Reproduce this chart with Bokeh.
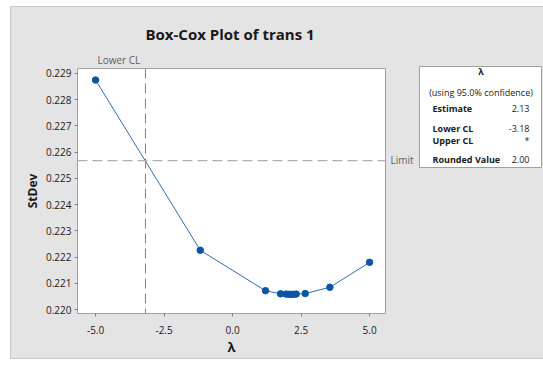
from bokeh.plotting import figure
from bokeh.layouts import row
from bokeh.models import Span, FixedTicker, NumeralTickFormatter, Range1d, Title
from bokeh.core.properties import value
from bokeh.embed import file_html
from bokeh.resources import INLINE

# ---- data ----
lam = [-5.0, -1.18, 1.20, 1.75, 1.95, 2.05, 2.13, 2.22, 2.32, 2.65, 3.55, 5.0]
stdev = [0.22875, 0.22226, 0.22072, 0.22060, 0.22059, 0.22058, 0.22058, 0.22058,
         0.22059, 0.22061, 0.22085, 0.22180]
lower_cl = -3.18
limit = 0.22568
x_ticks = [-5.0, -2.5, 0.0, 2.5, 5.0]
y_ticks = [0.220, 0.221, 0.222, 0.223, 0.224, 0.225, 0.226, 0.227, 0.228, 0.229]
stats_labels = ["Estimate", "Lower CL", "Upper CL", "Rounded Value"]
stats_values = ["2.13", "-3.18", "*", "2.00"]

FONT = "Open Sans"
BG = "#e4e4e4"
H = 351
W1, W2 = 376, 156
FL, FR, FT, FB = 66, 374, 61, 310  # frame of main figure, in its pixels

x0, x1 = -5.66, 5.58
y0, y1 = 0.21985, 0.22919

p = figure(width=W1, height=H, output_backend="svg", toolbar_location=None,
           x_range=Range1d(x0, x1), y_range=Range1d(y0, y1), title=None,
           min_border_left=FL, min_border_right=W1 - FR,
           min_border_top=FT, min_border_bottom=H - FB)
p.border_fill_color = BG
p.background_fill_color = "white"
p.outline_line_color = "#a0a0a0"
p.grid.visible = False

p.add_layout(Title(text="Lower CL", align="left", offset=20, standoff=3,
                   text_font=FONT, text_font_size="10px", text_font_style="normal",
                   text_color="#606060"), "above")
p.add_layout(Title(text="Box-Cox Plot of trans 1", align="left", offset=68, standoff=12,
                   text_font=FONT, text_font_size="15px", text_font_style="bold",
                   text_color="#1a1a1a"), "above")

for ax in (p.xaxis[0], p.yaxis[0]):
    ax.axis_line_color = None
    ax.major_tick_line_color = "#808080"
    ax.major_tick_in = 0
    ax.major_tick_out = 3
    ax.minor_tick_line_color = None
    ax.major_label_text_font = FONT
    ax.major_label_text_font_size = "10px"
    ax.major_label_text_color = "#1a1a1a"
    ax.axis_label_text_font = FONT
    ax.axis_label_text_font_style = "bold"
    ax.axis_label_text_color = "#1a1a1a"

p.xaxis.ticker = FixedTicker(ticks=x_ticks)
p.xaxis.formatter = NumeralTickFormatter(format="0.0")
p.xaxis.axis_label = "λ"
p.xaxis.axis_label_text_font_size = "13px"
p.xaxis.major_label_standoff = 9
p.xaxis.axis_label_standoff = 1

p.yaxis.ticker = FixedTicker(ticks=y_ticks)
p.yaxis.formatter = NumeralTickFormatter(format="0.000")
p.yaxis.axis_label = "StDev"
p.yaxis.axis_label_text_font_size = "12px"
p.yaxis.major_label_standoff = 3
p.yaxis.axis_label_standoff = 2

# reference lines
p.add_layout(Span(location=lower_cl, dimension="height", line_color="#808080",
                  line_dash="10 5", line_width=1))
p.add_layout(Span(location=limit, dimension="width", line_color="#b0b0b0",
                  line_dash="10 5", line_width=1.3))

# data
p.line(lam, stdev, line_color="#2f6db5", line_width=1)
p.scatter(lam, stdev, size=6.5, fill_color="#0b56a4", line_color="#0b56a4")

# ---- side panel with "Limit" label and stats box (pixel coordinates) ----
p2 = figure(width=W2, height=H, output_backend="svg", toolbar_location=None,
            x_range=Range1d(0, W2), y_range=Range1d(H, 0),
            x_axis_type=None, y_axis_type=None,
            min_border_left=0, min_border_right=0, min_border_top=0, min_border_bottom=0)
p2.border_fill_color = BG
p2.background_fill_color = BG
p2.outline_line_color = None
p2.grid.visible = False
for fig in (p, p2):
    try:
        fig.frame_align = False
    except Exception:
        pass

p2.text(x=[3], y=[152], text=["Limit"], text_font=value(FONT), text_font_size="10px",
        text_color="#606060", text_align="left", text_baseline="middle")
p2.quad(left=[32], right=[154], top=[59], bottom=[160], fill_color="white",
        line_color="#a0a0a0", line_width=1)
p2.text(x=[93.5, 93.5], y=[64, 85], text=["λ", "(using 95.0% confidence)"],
        text_font=value(FONT), text_font_size="9px", text_color="#1a1a1a",
        text_align="center", text_baseline="middle",
        text_font_style=["bold", "normal"])
rows_y = [101, 121, 133, 152]
p2.text(x=[45] * 4, y=rows_y, text=stats_labels, text_font=value(FONT),
        text_font_size="9px", text_font_style="bold", text_color="#1a1a1a",
        text_align="left", text_baseline="middle")
p2.text(x=[142] * 4, y=rows_y, text=stats_values, text_font=value(FONT),
        text_font_size="9px", text_color="#1a1a1a",
        text_align="right", text_baseline="middle")

layout = row(p, p2, spacing=0, margin=(7, 0, 0, 11),
             styles={"background-color": BG, "outline": "1px solid #c8c8c8"})

open("out.html", "w").write(file_html(layout, INLINE))
